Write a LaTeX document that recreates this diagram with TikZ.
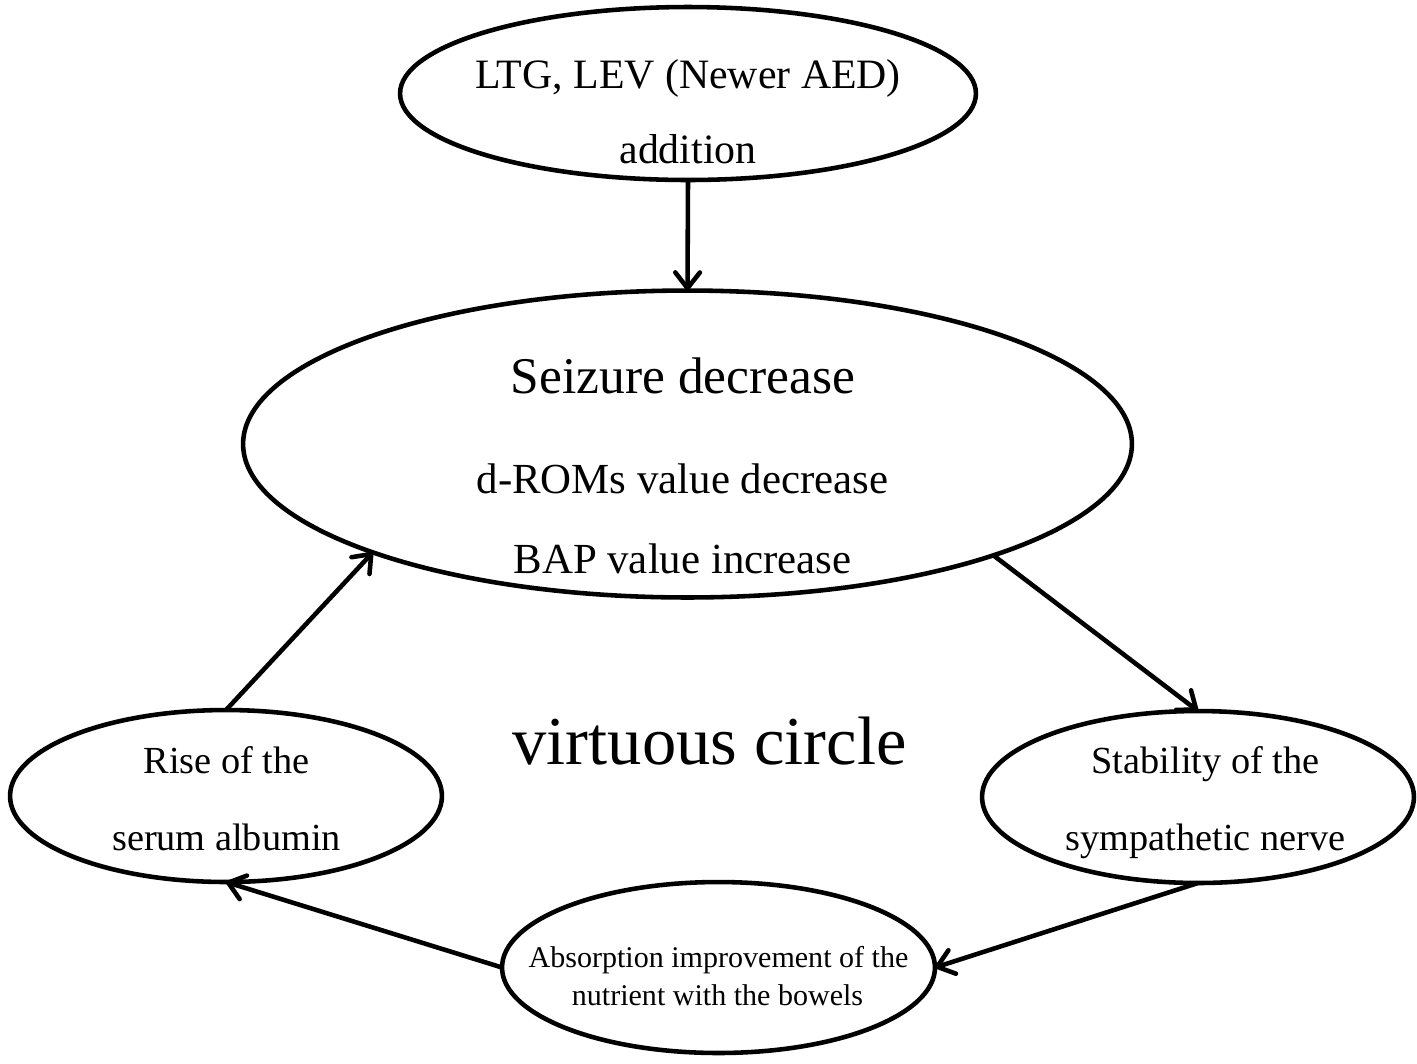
\documentclass[tikz,border=0pt]{standalone}
\usepackage{fontspec}
\setmainfont{Liberation Serif}
\usetikzlibrary{shapes.geometric,arrows.meta}
\begin{document}
\begin{tikzpicture}[x=0.02cm,y=-0.02cm,
  oval/.style={draw=black,ellipse,line width=2.6pt,inner sep=0pt,outer sep=0pt},
  lbl/.style={anchor=base,inner sep=0pt,outer sep=0pt},
  link/.style={line width=2.6pt,-{Straight Barb[length=9pt,width=14pt,line cap=round,line join=round]}}]
\useasboundingbox (0,0) rectangle (1417,1063);
% ellipses
\node[oval,minimum width=11.52cm,minimum height=3.46cm] (top) at (688,93.5) {};
\node[oval,minimum width=17.78cm,minimum height=6.14cm] (big) at (687.5,444) {};
\node[oval,minimum width=8.64cm,minimum height=3.44cm] (left) at (226,796) {};
\node[oval,minimum width=8.64cm,minimum height=3.44cm] (right) at (1198,797) {};
\node[oval,minimum width=8.66cm,minimum height=3.42cm] (bottom) at (718.5,967.5) {};
% texts
\node[lbl,font=\fontsize{23.8}{28}\selectfont] (t1) at (688,88) {LTG, LEV (Newer AED)};
\node[lbl,font=\fontsize{23.8}{28}\selectfont] (t2) at (688,163) {addition};
\node[lbl,font=\fontsize{29.3}{34}\selectfont] (b1) at (683,393) {Seizure decrease};
\node[lbl,font=\fontsize{24.4}{29}\selectfont] (b2) at (682.5,493) {d-ROMs value decrease};
\node[lbl,font=\fontsize{24.4}{29}\selectfont] (b3) at (682.5,573) {BAP value increase};
\node[lbl,font=\fontsize{39}{46}\selectfont] (vc) at (709.5,764) {virtuous circle};
\node[lbl,font=\fontsize{21.8}{26}\selectfont] (l1) at (226.5,773) {Rise of the};
\node[lbl,font=\fontsize{21.8}{26}\selectfont] (l2) at (226.5,850) {serum albumin};
\node[lbl,font=\fontsize{21.8}{26}\selectfont] (r1) at (1205.5,773) {Stability of the};
\node[lbl,font=\fontsize{21.8}{26}\selectfont] (r2) at (1205.5,850) {sympathetic nerve};
\node[lbl,font=\fontsize{17.1}{20}\selectfont] (m1) at (718.5,967) {Absorption improvement of the};
\node[lbl,font=\fontsize{17.1}{20}\selectfont] (m2) at (717.5,1005) {nutrient with the bowels};
% connectors
\draw[link] (top.south) -- (big.north);
\draw[link] (big.340.5) -- (right.north);
\draw[link] (right.south) -- (bottom.east);
\draw[link] (bottom.west) -- (left.south);
\draw[link] (left.north) -- (big.199.5);
\end{tikzpicture}
\end{document}
